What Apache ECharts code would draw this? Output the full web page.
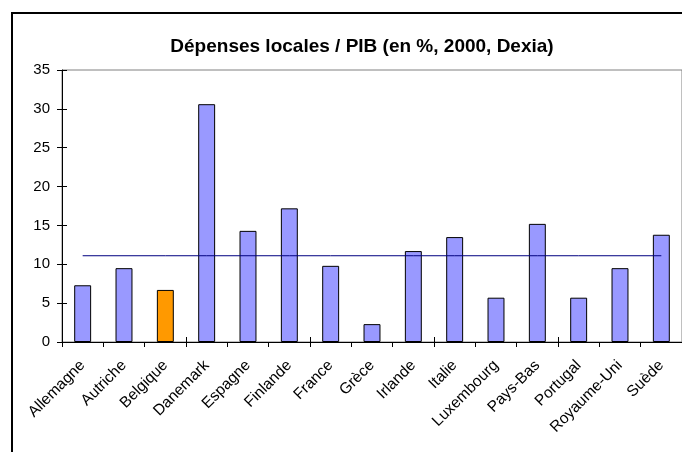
<!DOCTYPE html>
<html><head><meta charset="utf-8">
<script src="https://cdn.jsdelivr.net/npm/echarts@6/dist/echarts.min.js"></script>
<style>html,body{margin:0;padding:0;background:#fff}#c{width:682px;height:452px}</style>
</head><body><div id="c"></div>
<script>
const categories = ['Allemagne','Autriche','Belgique','Danemark','Espagne','Finlande','France','Grèce','Irlande','Italie','Luxembourg','Pays-Bas','Portugal','Royaume-Uni','Suède'];
const values = [7.3, 9.5, 6.7, 30.6, 14.3, 17.2, 9.8, 2.3, 11.7, 13.5, 5.7, 15.2, 5.7, 9.5, 13.8];
const averageLine = [11.1,11.1,11.1,11.1,11.1,11.1,11.1,11.1,11.1,11.1,11.1,11.1,11.1,11.1,11.1];
const highlight = 'Belgique';
const yTicks = {min:0, max:35, interval:5};

const chart = echarts.init(document.getElementById('c'), null, {renderer:'canvas'});
const font = 'Liberation Sans, Arial, sans-serif';
chart.setOption({
  animation:false,
  backgroundColor:'#fff',
  graphic:[{type:'rect', shape:{x:12, y:13, width:720, height:500}, style:{fill:'none', stroke:'#000', lineWidth:2}, z:-1}],
  title:{text:'Dépenses locales / PIB (en %, 2000, Dexia)', left:357, textAlign:'center', top:32,
    textStyle:{fontFamily:font, fontSize:19, fontWeight:'bold', color:'#000'}},
  grid:{left:62, right:-2, top:70, bottom:110, show:true, borderColor:'#808080', borderWidth:1},
  xAxis:[{type:'category', data:categories, boundaryGap:true,
    axisLine:{lineStyle:{color:'#000', width:1}},
    axisTick:{show:true, length:5, alignWithLabel:false, lineStyle:{color:'#000'}},
    axisLabel:{rotate:45, interval:0, margin:21, fontFamily:font, fontSize:15.5, color:'#000'},
    splitLine:{show:false}},
   {type:'category', data:categories, position:'bottom', boundaryGap:true,
    axisLine:{show:false}, axisTick:{show:true, inside:true, length:5, lineStyle:{color:'#000'}},
    axisLabel:{show:false}, splitLine:{show:false}}],
  yAxis:[{type:'value', min:yTicks.min, max:yTicks.max, interval:yTicks.interval,
    axisLine:{show:true, lineStyle:{color:'#000'}},
    axisTick:{show:true, length:5, lineStyle:{color:'#000'}},
    axisLabel:{margin:12, fontFamily:font, fontSize:15, color:'#000'},
    splitLine:{show:false}},
   {type:'value', min:yTicks.min, max:yTicks.max, interval:yTicks.interval, position:'left',
    axisLine:{show:false}, axisTick:{show:true, inside:true, length:5, lineStyle:{color:'#000'}},
    axisLabel:{show:false}, splitLine:{show:false}}],
  series:[{type:'bar', data:values.map((v,i)=>({value:v, itemStyle:{color: categories[i]===highlight ? '#FF9900' : '#9999FF'}})),
    barWidth:'41%', itemStyle:{borderColor:'#000', borderWidth:1}},
   {type:'line', data:averageLine, symbol:'none', lineStyle:{color:'#000080', width:1}, z:3}]
});
</script></body></html>
